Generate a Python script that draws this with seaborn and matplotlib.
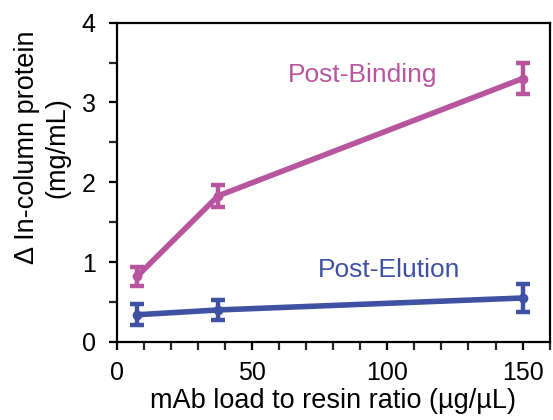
import matplotlib
matplotlib.use("Agg")
import matplotlib.pyplot as plt
from matplotlib.ticker import MultipleLocator
import pandas as pd
import seaborn as sns

# mAb load to resin ratio (ug/uL)
load_ratio = [7.5, 37.5, 150]
# change in in-column protein (mg/mL) and standard deviations
post_binding = [0.82, 1.83, 3.30]
post_binding_err = [0.12, 0.14, 0.19]
post_elution = [0.34, 0.40, 0.55]
post_elution_err = [0.13, 0.12, 0.17]

series_names = ["Post-Binding", "Post-Elution"]
colors = {"Post-Binding": "#B8559F", "Post-Elution": "#3F51A3"}

df = pd.DataFrame({
    "load": load_ratio * 2,
    "value": post_binding + post_elution,
    "err": post_binding_err + post_elution_err,
    "series": [series_names[0]] * 3 + [series_names[1]] * 3,
})

sns.set_theme(style="ticks")
plt.rcParams["font.family"] = ["Liberation Sans", "DejaVu Sans"]
plt.rcParams["text.color"] = "black"
plt.rcParams["axes.labelcolor"] = "black"

fig = plt.figure(figsize=(5.53, 4.20), dpi=100)
ax = fig.add_axes([0.211, 0.186, 0.783, 0.760])

sns.lineplot(data=df, x="load", y="value", hue="series", palette=colors,
             linewidth=4.0, marker="o", markersize=7, markeredgewidth=0,
             legend=False, ax=ax, zorder=3)

for name in series_names:
    sub = df[df["series"] == name]
    ax.errorbar(sub["load"], sub["value"], yerr=sub["err"], fmt="none",
                ecolor=colors[name], elinewidth=3.2, capsize=5, capthick=3.2,
                zorder=4)

ax.text(0.568, 0.835, "Post-Binding", transform=ax.transAxes,
        color=colors["Post-Binding"], fontsize=19, ha="center", va="center")
ax.text(0.628, 0.225, "Post-Elution", transform=ax.transAxes,
        color=colors["Post-Elution"], fontsize=19, ha="center", va="center")

ax.set_xlim(0, 160)
ax.set_ylim(0, 4)
ax.xaxis.set_major_locator(MultipleLocator(50))
ax.xaxis.set_minor_locator(MultipleLocator(10))
ax.yaxis.set_major_locator(MultipleLocator(1))
ax.yaxis.set_minor_locator(MultipleLocator(0.5))

for s in ax.spines.values():
    s.set_linewidth(1.6)
    s.set_color("black")
ax.tick_params(axis="both", which="major", length=6, width=1.6, labelsize=18,
               colors="black", direction="out")
ax.tick_params(axis="x", which="major", pad=8)
ax.tick_params(axis="y", which="major", pad=9)
ax.tick_params(axis="both", which="minor", length=6, width=1.6, direction="out")

ax.set_xlabel("mAb load to resin ratio (µg/µL)", fontsize=19.5, labelpad=2)
ax.set_ylabel("Δ In-column protein\n(mg/mL)", fontsize=19.5, linespacing=1.25,
              va="center", ha="center")
ax.yaxis.set_label_coords(-0.172, 0.61)

fig.savefig("out.png", dpi=100)
